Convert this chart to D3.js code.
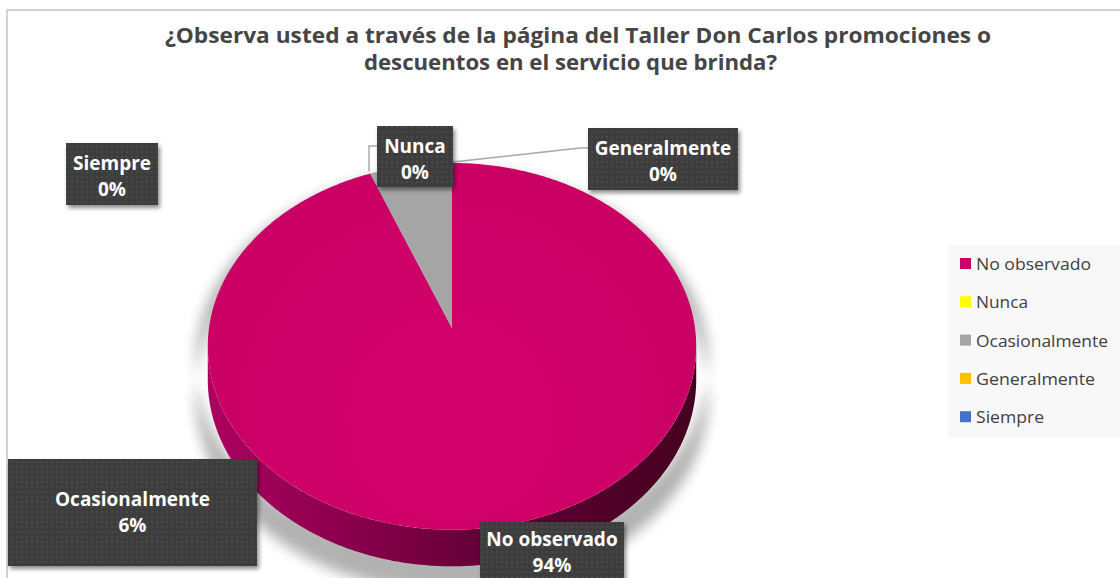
<!DOCTYPE html>
<html>
<head>
<meta charset="utf-8">
<script src="https://cdn.jsdelivr.net/npm/d3@7"></script>
<style>
  html, body { margin: 0; padding: 0; background: #ffffff; }
  svg { display: block; }
</style>
</head>
<body>
<svg id="chart" width="1120" height="578"></svg>
<script>
// ---- data ----
const categories = ["No observado", "Nunca", "Ocasionalmente", "Generalmente", "Siempre"];
const percents = [94, 0, 6, 0, 0];
const sliceColors = ["#CC0066", "#FFFF00", "#A5A5A5", "#FFC000", "#4472C4"];
const titleLines = [
  "¿Observa usted a través de la página del Taller Don Carlos promociones o",
  "descuentos en el servicio que brinda?"
];

// ---- layout ----
const W = 1120, H = 578;
const pieGeom = { cx: 452, cy: 328, r: 243, ry: 181.5, persp: 0.1, depth: 33 };
const labelBoxes = {
  "No observado":   { x: 480, y: 522, w: 144, h: 62, lineY: [546, 572] },
  "Nunca":          { x: 377, y: 126, w: 76,  h: 61 },
  "Ocasionalmente": { x: 8,   y: 459, w: 249, h: 107 },
  "Generalmente":   { x: 588, y: 128, w: 150, h: 62 },
  "Siempre":        { x: 66,  y: 143, w: 92,  h: 62 }
};
const legendBox = { x: 948, y: 245, w: 172, h: 192, rowY0: 264, rowStep: 38.3 };

const svg = d3.select("#chart");
const defs = svg.append("defs");

// dotted fill used by the data label boxes
const pat = defs.append("pattern").attr("id", "dots")
  .attr("width", 5).attr("height", 5).attr("patternUnits", "userSpaceOnUse");
pat.append("rect").attr("width", 5).attr("height", 5).attr("fill", "#3c3c3c");
pat.append("rect").attr("x", 1).attr("y", 1).attr("width", 2).attr("height", 2).attr("fill", "#4a4a4a");

const boxShadow = defs.append("filter").attr("id", "boxShadow")
  .attr("x", "-20%").attr("y", "-20%").attr("width", "150%").attr("height", "160%");
boxShadow.append("feDropShadow").attr("dx", 2).attr("dy", 3).attr("stdDeviation", 2.2)
  .attr("flood-color", "#000").attr("flood-opacity", 0.45);

const pieShadow = defs.append("filter").attr("id", "pieShadow")
  .attr("x", "-20%").attr("y", "-20%").attr("width", "140%").attr("height", "140%");
pieShadow.append("feGaussianBlur").attr("stdDeviation", 6);

const sideGrad = defs.append("linearGradient").attr("id", "sideGrad")
  .attr("gradientUnits", "userSpaceOnUse")
  .attr("x1", pieGeom.cx - pieGeom.r).attr("x2", pieGeom.cx + pieGeom.r).attr("y1", 0).attr("y2", 0);
[[0, "#ad005f"], [0.3, "#88004b"], [0.6, "#5e0033"], [1, "#45001f"]].forEach(([o, c]) =>
  sideGrad.append("stop").attr("offset", o).attr("stop-color", c));

const topGrad = defs.append("radialGradient").attr("id", "topGrad")
  .attr("gradientUnits", "userSpaceOnUse")
  .attr("cx", pieGeom.cx).attr("cy", pieGeom.cy + 90).attr("r", 260);
topGrad.append("stop").attr("offset", 0).attr("stop-color", "#d2026b");
topGrad.append("stop").attr("offset", 1).attr("stop-color", "#ca0064");

// ---- chart frame ----
svg.append("rect").attr("x", 7).attr("y", 10).attr("width", W + 20).attr("height", H + 20)
  .attr("fill", "#ffffff").attr("stroke", "#c4c4c4").attr("stroke-width", 1.5);

// ---- title ----
const titleG = svg.append("g")
  .attr("font-family", "'Open Sans', 'Noto Sans', sans-serif")
  .attr("font-weight", "bold").attr("font-size", 21).attr("fill", "#454545");
const titleSpec = [{ x: 165, y: 43, len: 826 }, { x: 364, y: 70, len: 413 }];
titleLines.forEach((t, i) => {
  titleG.append("text").attr("x", titleSpec[i].x).attr("y", titleSpec[i].y)
    .attr("textLength", titleSpec[i].len).attr("lengthAdjust", "spacingAndGlyphs").text(t);
});

// ---- 3D pie ----
// Projects an angle on the pie rim (0 = 12 o'clock, clockwise) with a mild perspective;
// z = 0 is the top face, z = 1 the bottom edge of the side wall.
function project(theta, z) {
  const g = pieGeom;
  const u = Math.sin(theta), v = -Math.cos(theta);
  const s = 1 / (1 - g.persp * v);
  return [g.cx + g.r * u * s, g.cy + g.ry * v * s + z * g.depth * s];
}
function arcPoints(a0, a1, z) {
  const n = Math.max(2, Math.ceil(Math.abs(a1 - a0) / 0.01));
  return d3.range(n + 1).map(i => project(a0 + (a1 - a0) * i / n, z));
}
const line = d3.line();

const arcs = d3.pie().sort(null).value(d => d)(percents);

// soft shadow beneath the whole disc
const outline = arcPoints(0, 2 * Math.PI, 0).concat(arcPoints(2 * Math.PI, 0, 1));
svg.append("path")
  .attr("d", line(outline) + "Z")
  .attr("transform", `translate(${pieGeom.cx},${pieGeom.cy + 14}) scale(1.05,1.05) translate(${-pieGeom.cx},${-pieGeom.cy})`)
  .attr("fill", "#000").attr("opacity", 0.3).attr("filter", "url(#pieShadow)");

// visible side wall: front half of the rim, between the silhouette angles
const silL = Math.acos(-pieGeom.persp), silR = 2 * Math.PI - silL;
const pieG = svg.append("g");
arcs.forEach((a, i) => {
  if (a.endAngle - a.startAngle <= 0) return;
  const s0 = Math.max(a.startAngle, silL), s1 = Math.min(a.endAngle, silR);
  if (s1 <= s0) return;
  const pts = arcPoints(s0, s1, 0).concat(arcPoints(s1, s0, 1));
  pieG.append("path").attr("d", line(pts) + "Z")
    .attr("fill", i === 0 ? "url(#sideGrad)" : d3.color(sliceColors[i]).darker(1.2));
});

// top faces
arcs.forEach((a, i) => {
  if (a.endAngle - a.startAngle <= 0) return;
  const pts = [[pieGeom.cx, pieGeom.cy]].concat(arcPoints(a.startAngle, a.endAngle, 0));
  pieG.append("path").attr("d", line(pts) + "Z")
    .attr("fill", i === 0 ? "url(#topGrad)" : sliceColors[i]);
});

// ---- leader lines ----
const leaders = svg.append("g").attr("fill", "none").attr("stroke", "#a6a6a6").attr("stroke-width", 1.4);
{
  const nunca = arcs[categories.indexOf("Nunca")];
  const p = project(nunca.startAngle, 0);
  const b = labelBoxes["Nunca"];
  leaders.append("path").attr("d", line([[b.x, 146], [369, 146], [369, p[1] - 2]]));
  const gen = arcs[categories.indexOf("Generalmente")];
  const q = project(gen.startAngle, 0);
  const gb = labelBoxes["Generalmente"];
  leaders.append("path").attr("d", line([[q[0] + 1, q[1] - 1], [580, 148], [gb.x, 148]]));
}

// ---- data labels ----
const labelsG = svg.append("g")
  .attr("font-family", "'Open Sans', 'Noto Sans', sans-serif")
  .attr("font-weight", "bold").attr("font-size", 19).attr("fill", "#ffffff")
  .attr("text-anchor", "middle");
categories.forEach((c, i) => {
  const b = labelBoxes[c];
  const g = labelsG.append("g");
  g.append("rect").attr("x", b.x).attr("y", b.y).attr("width", b.w).attr("height", b.h)
    .attr("fill", "url(#dots)").attr("filter", "url(#boxShadow)");
  const mid = b.y + b.h / 2;
  const off = b.h > 80 ? -7 : -4;
  const ys = b.lineY || [mid + off, mid + off + 26];
  g.append("text").attr("x", b.x + b.w / 2).attr("y", ys[0]).text(c);
  g.append("text").attr("x", b.x + b.w / 2).attr("y", ys[1]).text(d3.format(".0f")(percents[i]) + "%");
});

// ---- legend ----
const lg = svg.append("g");
lg.append("rect").attr("x", legendBox.x).attr("y", legendBox.y)
  .attr("width", legendBox.w).attr("height", legendBox.h).attr("fill", "#f8f8f8");
const legendTextLen = [115, 52, 132, 119, 68];
categories.forEach((c, i) => {
  const y = legendBox.rowY0 + i * legendBox.rowStep;
  lg.append("rect").attr("x", 960).attr("y", y - 6).attr("width", 11).attr("height", 11)
    .attr("fill", sliceColors[i]);
  lg.append("text").attr("x", 976).attr("y", y + 6)
    .attr("font-family", "'Open Sans', 'Noto Sans', sans-serif").attr("font-size", 16.5)
    .attr("fill", "#404040")
    .attr("textLength", legendTextLen[i]).attr("lengthAdjust", "spacingAndGlyphs")
    .text(c);
});
</script>
</body>
</html>
